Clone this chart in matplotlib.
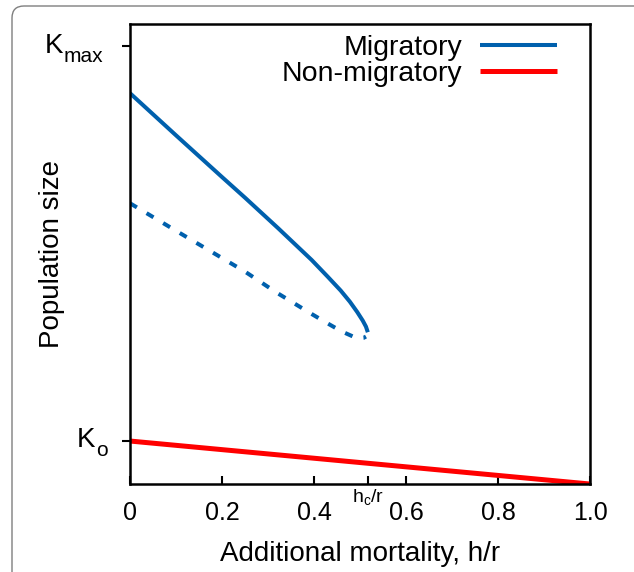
import matplotlib.pyplot as plt
from matplotlib.patches import FancyBboxPatch
from matplotlib.transforms import IdentityTransform

plt.rcParams['font.family'] = ['Liberation Sans', 'DejaVu Sans']

# data (Ko = 1 on the y scale)
mort_stable = [0, 0.1, 0.2, 0.25, 0.322, 0.395, 0.43, 0.458, 0.478, 0.494, 0.506, 0.513, 0.517]
pop_stable = [9.09, 8.11, 7.14, 6.66, 5.95, 5.21, 4.82, 4.50, 4.24, 4.00, 3.80, 3.66, 3.53]
mort_unstable = [0, 0.1, 0.25, 0.319, 0.391, 0.424, 0.46, 0.485, 0.499, 0.508, 0.513]
pop_unstable = [6.53, 5.89, 4.94, 4.45, 3.98, 3.77, 3.55, 3.43, 3.39, 3.40, 3.43]
mort_non = [0, 1.0]
pop_non = [1.0, 0.0]

K_o = 1.0
K_max = 10.19
h_c = 0.517

xticks = [0, 0.2, 0.4, 0.6, 0.8, 1.0]
xticklabels = ['0', '0.2', '0.4', '0.6', '0.8', '1.0']

blue = '#0060ad'
red = '#ff0000'

fig = plt.figure(figsize=(6.34, 5.72), dpi=100)
ax = fig.add_axes([0.205, 0.1538, 0.7256, 0.8051])

ax.plot(mort_stable, pop_stable, color=blue, lw=2.9, label='Migratory',
        solid_capstyle='butt')
ax.plot(mort_unstable, pop_unstable, color=blue, lw=2.9,
        linestyle=(0, (2, 2.8)), dash_capstyle='butt')
ax.plot(mort_non, pop_non, color=red, lw=3.6, label='Non-migratory',
        solid_capstyle='butt')

ax.set_xlim(0, 1)
ax.set_ylim(0, 10.71)

ax.set_xticks(xticks + [h_c])
ax.set_xticklabels(xticklabels + [''])
ax.set_yticks([K_o, K_max])
ax.set_yticklabels(['', ''])
ax.tick_params(axis='x', direction='in', length=6, width=1.5, labelsize=18, pad=12)
ax.tick_params(axis='y', direction='out', length=6, width=1.5)
for s in ax.spines.values():
    s.set_linewidth(1.8)

# y tick labels K_max and K_o, with large subscripts
ytf = ax.get_yaxis_transform()
ax.annotate('K', xy=(0, K_max), xycoords=ytf, xytext=(-67, -7), textcoords='offset pixels',
            ha='right', va='baseline', fontsize=20)
ax.annotate('max', xy=(0, K_max), xycoords=ytf, xytext=(-66, -16), textcoords='offset pixels',
            ha='left', va='baseline', fontsize=15)
ax.annotate('K', xy=(0, K_o), xycoords=ytf, xytext=(-35, -6), textcoords='offset pixels',
            ha='right', va='baseline', fontsize=20)
ax.annotate('o', xy=(0, K_o), xycoords=ytf, xytext=(-34, -15), textcoords='offset pixels',
            ha='left', va='baseline', fontsize=15)

ax.annotate('$\\mathregular{h_c/r}$', xy=(h_c, 0), xycoords=ax.get_xaxis_transform(),
            xytext=(0, -3), textcoords='offset pixels', ha='center', va='top', fontsize=14)

ax.set_xlabel('Additional mortality, h/r', fontsize=20)
ax.xaxis.set_label_coords(0.5, -0.124)
ax.set_ylabel('Population size', fontsize=20)
ax.yaxis.set_label_coords(-0.141, 0.5)

ax.legend(loc='upper right', frameon=False, markerfirst=False, fontsize=20.5,
          handlelength=2.7, handletextpad=0.63, borderpad=0, borderaxespad=0,
          labelspacing=0.0, bbox_to_anchor=(0.928, 0.975))

# rounded frame round the figure
frame = FancyBboxPatch((12, -30), 700, 596, boxstyle='round,pad=0,rounding_size=12',
                       transform=IdentityTransform(), fill=False,
                       edgecolor='#7f7f7f', lw=1.0)
fig.patches.append(frame)

fig.savefig('out.png', dpi=100)
